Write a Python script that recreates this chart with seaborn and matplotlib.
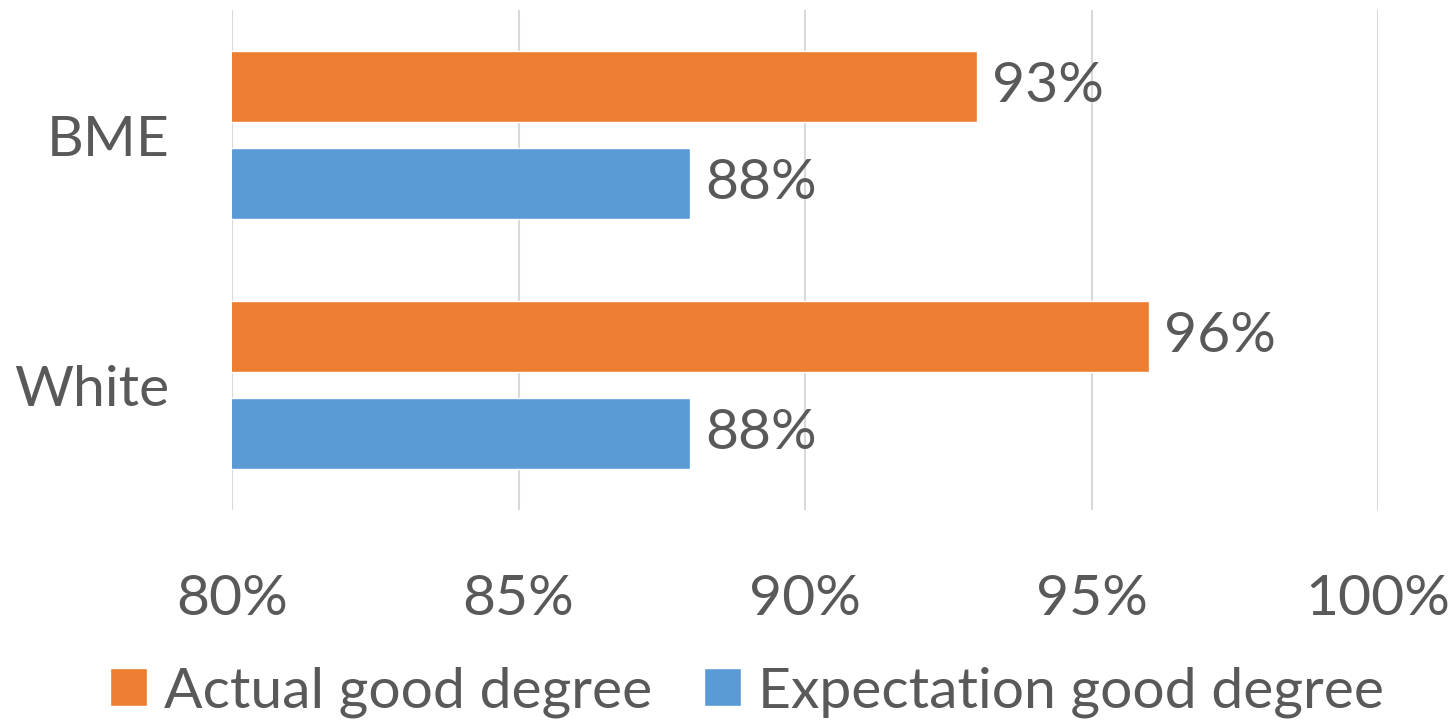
import matplotlib
matplotlib.use("Agg")
import matplotlib.pyplot as plt
import seaborn as sns
import pandas as pd

groups = ["BME", "White"]
series = ["Actual good degree", "Expectation good degree"]
actual = [93, 96]
expectation = [88, 88]
xticks = [80, 85, 90, 95, 100]
colors = ["#ED7D31", "#5B9BD5"]

rows = []
for g, a, e in zip(groups, actual, expectation):
    rows.append({"group": g, "series": series[0], "value": a})
    rows.append({"group": g, "series": series[1], "value": e})
df = pd.DataFrame(rows)

sns.set_theme(style="white")
plt.rcParams["font.family"] = ["Lato", "DejaVu Sans"]
text_color = "#595959"
fs = 41

fig = plt.figure(figsize=(14.53, 7.22), dpi=100)
ax = fig.add_axes([232/1453, 1-510/722, (1378-232)/1453, 500/722])

sns.barplot(data=df, y="group", x="value", hue="series", hue_order=series,
            palette=colors, orient="h", width=0.77, gap=0.26, ax=ax,
            saturation=1, legend=True)

ax.set_xlim(80, 100)
ax.set_ylim(1.5, -0.5)
ax.set_xticks(xticks)
ax.set_xticklabels([f"{t}%" for t in xticks])
ax.xaxis.grid(True, color="#D9D9D9", linewidth=1.5)
ax.set_axisbelow(True)
for s in ax.spines.values():
    s.set_visible(False)
ax.set_xlabel("")
ax.set_ylabel("")
ax.tick_params(axis="x", labelsize=fs, colors=text_color, pad=46, length=0)
ax.tick_params(axis="y", labelsize=fs, colors=text_color, pad=45, length=0)

for cont in ax.containers:
    ax.bar_label(cont, labels=[f"{v:.0f}%" for v in cont.datavalues],
                 padding=11, fontsize=fs, color=text_color)

leg = ax.get_legend()
handles, labels = ax.get_legend_handles_labels()
leg.remove()
fig.legend(handles, labels, loc="center", bbox_to_anchor=(0.514, 1-692/722),
           ncol=2, frameon=False, fontsize=fs, labelcolor=text_color,
           handlelength=0.65, handleheight=0.65, handletextpad=0.3,
           columnspacing=0.9)

fig.savefig("out.png", dpi=100)
